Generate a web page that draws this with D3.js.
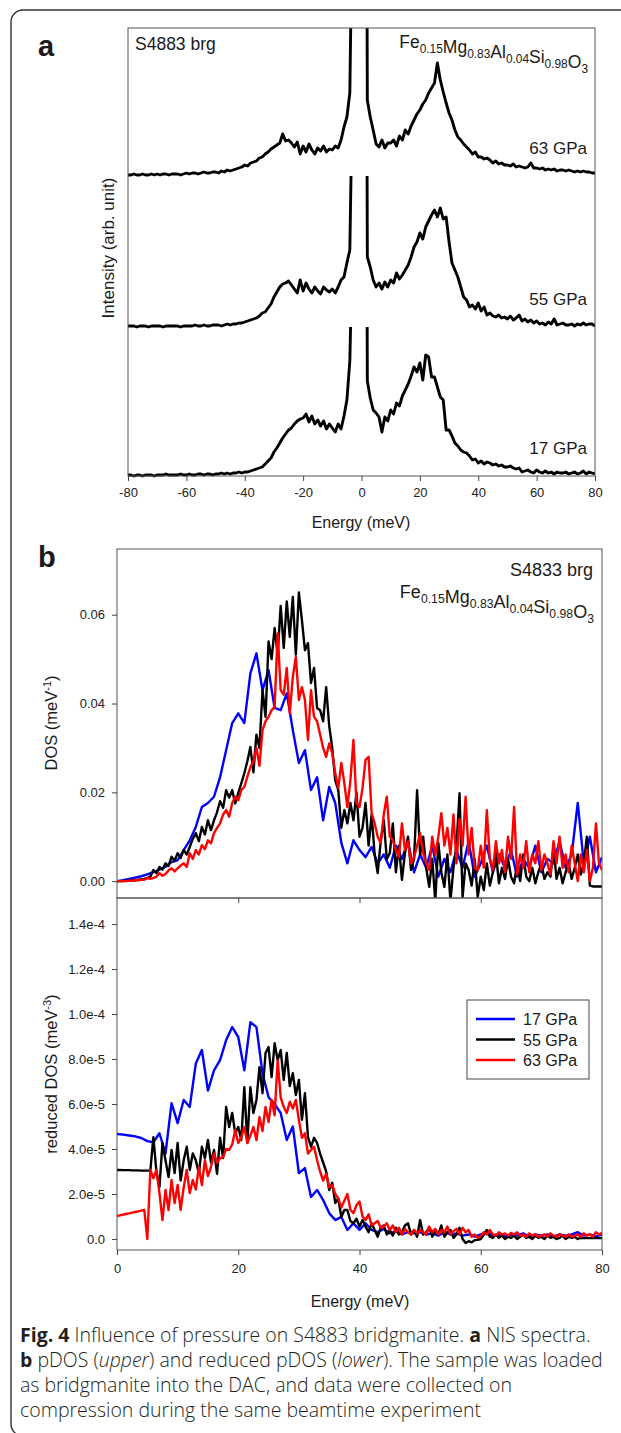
<!DOCTYPE html>
<html>
<head>
<meta charset="utf-8">
<script src="https://cdnjs.cloudflare.com/ajax/libs/d3/7.8.5/d3.min.js"></script>
<style>
  body { margin: 0; background: #fff; }
  svg text { font-family: "Liberation Sans", Arial, sans-serif; fill: #1a1a1a; }
  svg text.cap { font-family: "Open Sans", sans-serif; font-weight: 300; fill: #231f20; }
</style>
</head>
<body>
<div id="fig"></div>
<script>
// ---- data ----
// panel a: NIS spectra, energy -80..80 meV (1 meV step), intensity in arb. units
var nisEnergy = d3.range(-80, 81, 1);
var nis17 = [1,1,0,1,1,0,1,1,1,0, 1,1,1,2,1,1,1,1,2,1, 1,2,1,1,2,2,1,2,2,1, 2,2,3,2,3,2,3,3,4,3,
  4,4,5,6,7,8,9,12,15,18, 24,28,33,38,42,46,48,52,55,57, 58,62,54,60,52,56,50,55,47,52, 48,44,52,47,60,76,115,250,1000,1000,
  1000,1000,95,78,66,63,59,44,59,55, 66,62,73,70,80,86,92,100,109,104, 113,96,121,119,99,99,89,79,76,46, 46,40,33,30,26,24,23,20,16,17,
  13,15,12,14,13,11,12,10,11,9, 9,10,8,7,8,4,5,6,4,3, 6,4,3,5,3,4,2,4,3,3, 4,2,3,4,2,3,5,2,4,3, 2];
var nis55 = [1,1,1,0,1,1,1,0,1,1, 1,1,0,1,1,1,1,1,0,1, 1,1,1,2,1,1,2,1,1,2, 2,2,1,2,3,2,3,3,4,4,
  5,6,7,8,9,11,14,15,19,23, 30,35,40,43,44,46,42,38,34,47, 36,44,38,34,40,36,33,40,37,35, 38,34,40,47,50,64,77,260,1000,1000,
  1000,1000,70,60,47,40,44,38,45,40, 47,44,54,48,52,57,62,70,80,85, 94,88,100,106,112,117,110,119,108,110, 85,64,57,50,40,30,27,20,22,18,
  24,16,20,12,14,11,10,12,9,10, 8,11,7,9,12,6,8,5,7,4, 6,3,4,2,5,3,8,2,3,4, 2,2,3,1,3,2,4,2,3,3, 1];
var nis63 = [1,1,2,1,1,2,1,1,2,1, 2,1,2,2,1,2,2,2,1,2, 3,2,3,3,2,3,4,3,3,4, 4,3,5,4,6,5,6,7,8,9,
  11,10,13,14,15,18,19,22,24,27, 29,31,33,42,35,36,33,29,34,22, 30,24,32,26,22,28,25,30,24,27, 26,30,28,36,49,59,83,300,1000,1000,
  1000,1000,76,59,46,32,29,36,28,33, 33,36,30,40,36,46,42,50,56,62, 66,72,76,83,88,93,113,96,84,73, 63,56,46,39,36,32,29,26,22,24,
  19,19,17,18,16,13,15,12,13,11, 11,10,12,9,10,9,8,9,13,8, 8,7,8,6,7,6,7,5,6,6, 5,6,5,4,5,4,5,4,4,3, 3];
var nisLabels = ["17 GPa", "55 GPa", "63 GPa"];

// panel b: pDOS (in 1e-3 meV^-1) and reduced pDOS (in 1e-6 meV^-3)
var energyFine = d3.range(0, 80.25, 0.5);   // 55 and 63 GPa
var energyCoarse = d3.range(0, 80.5, 1);    // 17 GPa
var dos17 = [0,0.2,0.5,0.8,1.1,1.5,2.0,2.6,3.2,4.3, 4.7,7.0,9.2,12.2,16.7,17.6,19.0,23.4,29.5,35.6,
  37.8,35.6,46.8,51.3,43.0,47.5,39.0,38.5,42.3,34.0, 26.6,29.5,20.5,23.4,13.7,21.2,17.6,8.6,4.0,9.2,
  7.0,5.4,7.7,4.0,6.0,3.0,8.0,5.0,9.0,2.0, 6.0,3.0,8.0,1.0,5.0,2.0,7.0,3.0,9.0,1.0,
  4.0,8.0,2.0,6.0,3.0,7.0,1.0,5.0,3.0,8.0, 2.0,5.0,4.0,9.0,3.0,6.0,17.6,4.0,10.0,2.0, 5.4];
var dos55 = [0,0,0,0.1,0.1,0.2,0.2,0.3,0.4,0.5, 0.7,1.0,2.5,1.8,3.2,2.6,4.0,3.4,5.5,4.6,
  6.3,5.2,7.0,6.0,7.7,9.5,10.8,9.0,12.2,10.5, 13.7,11.5,13.7,15.5,18.0,16.5,20.5,18.8,20.5,17.5,
  19.8,22.0,24.3,27.0,30.2,24.5,33.0,30.0,43.0,37.0, 54.0,50.0,57.0,51.0,62.0,52.5,63.0,55.0,64.0,51.0,
  65.0,58.8,52.0,53.6,44.6,48.0,39.0,38.5,36.0,43.7, 35.0,30.0,22.7,20.5,12.0,16.0,13.0,17.6,13.7,20.0,
  10.0,12.0,17.6,8.0,15.0,6.0,1.8,9.0,13.7,5.0, 6.3,13.0,2.0,8.0,0.3,6.3,10.0,2.5,5.0,20.5,
  6.0,10.0,3.0,-1.3,5.0,-4.5,8.6,2.0,-1.3,6.0, -4.5,3.0,8.0,19.8,-3.6,4.0,2.5,-1.0,5.0,-3.6,
  1.0,-2.0,4.0,-1.0,2.0,6.3,-0.5,3.0,0.5,5.0, 1.0,-0.5,4.0,0.0,6.0,1.0,0.0,3.0,-0.5,2.0,
  4.0,0.5,2.0,1.0,7.7,0.5,3.0,-0.5,2.0,4.0, 0.5,3.0,6.0,1.5,4.0,10.0,-1.0,-1.2,-1.2,-1.2, -1.2];
var dos63 = [0,0,0,0,0.1,0.1,0.2,0.2,0.3,0.3, 0.7,0.5,0.7,1.0,1.8,1.2,1.6,2.4,2.9,2.2,
  2.9,3.5,4.0,3.2,6.3,5.0,7.0,6.0,8.1,7.2, 9.2,8.5,10.8,12.0,13.0,15.0,16.0,14.5,17.6,19.0,
  18.2,20.5,21.2,23.5,25.7,27.0,30.0,26.0,34.0,36.0, 37.0,38.5,39.2,55.8,43.0,42.0,48.0,37.8,46.0,50.5,
  40.8,43.7,40.8,31.8,43.0,37.0,36.0,33.0,30.0,28.0, 31.0,28.8,24.3,21.0,26.6,22.0,16.7,22.7,31.8,17.6,
  16.7,21.0,27.3,28.0,15.3,13.0,10.0,8.6,15.0,19.0, 10.0,9.2,7.0,5.4,13.0,7.0,9.0,4.0,5.4,8.0,
  10.8,6.3,4.0,2.5,10.0,6.0,10.0,15.3,8.0,12.0, 6.0,15.0,4.0,14.0,8.0,19.0,6.0,12.0,3.0,2.5,
  8.0,3.0,16.0,5.0,2.5,9.0,4.0,7.0,2.0,10.0, 5.0,16.7,1.5,6.0,3.0,9.0,2.0,6.0,4.0,9.0,
  2.5,6.0,4.0,1.5,9.0,4.0,10.0,3.0,6.0,2.0, 8.0,4.0,0.0,6.0,2.0,7.0,0.0,3.0,13.0,4.0, 2.5];
var rdos17 = [46.7,46.4,46.0,45.6,44.9,43.5,43.0,47.0,38.0,60.4, 51.5,61.8,58.7,78.0,84.0,66.0,75.0,79.5,88.4,94.2,
  89.8,75.0,96.4,94.2,73.7,63.0,60.0,56.0,44.0,50.0, 29.3,31.5,18.7,21.8,17.3,11.5,8.4,9.8,4.0,7.0,
  4.0,7.0,4.0,3.0,4.5,2.5,3.5,2.0,3.0,2.5, 3.0,2.0,2.5,1.5,3.0,2.0,2.5,1.5,2.0,1.0,
  2.0,3.0,1.5,2.0,1.0,2.0,1.5,2.5,1.0,2.0, 1.5,2.0,1.0,2.0,1.5,2.0,3.0,1.5,2.0,1.0, 2.0];
var rdos55 = [30.7,30.7,30.6,30.6,30.6,30.5,30.5,30.5,30.4,30.4, 30.4,30.4,45.3,30.0,23.0,42.7,35.0,27.5,39.6,29.3,
  42.7,26.0,35.0,41.0,30.7,38.0,35.0,29.0,41.0,36.0, 44.0,34.0,39.6,29.0,45.0,36.0,58.7,49.8,56.0,47.0,
  49.8,44.0,67.5,42.7,67.5,56.0,61.8,76.4,64.8,82.7, 85.3,72.0,87.0,79.5,84.0,70.7,82.7,68.0,73.7,64.0,
  70.7,53.0,64.8,45.3,41.0,45.0,42.7,38.0,34.0,30.0, 21.8,25.0,16.0,18.0,9.8,12.9,12.9,8.0,7.0,9.0,
  5.5,8.4,5.5,3.0,7.0,4.0,1.0,5.0,6.0,2.0, 4.0,1.5,5.0,2.0,3.0,6.0,7.0,2.0,4.0,1.0,
  8.4,2.0,3.0,5.0,1.0,4.0,2.0,6.0,1.0,3.0, 4.0,0.5,2.0,5.0,0.0,-1.8,-1.0,-1.5,-0.5,-0.4,
  0.0,2.0,4.0,1.0,0.5,2.0,0.5,1.5,0.0,1.0, 0.5,1.5,0.0,1.0,2.0,0.5,1.0,0.0,1.5,0.5,
  1.0,0.0,1.5,0.5,1.0,0.0,0.5,1.5,0.0,1.0, 0.5,1.0,0.0,0.5,0.4,0.4,0.4,0.4,0.4,0.4, 0.4];
var rdos63 = [10.2,10.5,10.8,11.1,11.4,11.7,12.0,12.3,12.6,12.9, 0.0,30.7,27.0,30.7,20.4,8.4,21.8,12.9,26.2,16.0,
  24.0,12.9,23.0,30.7,20.4,26.2,22.0,32.0,24.0,35.0, 28.0,32.0,38.0,33.8,36.0,36.4,40.0,39.6,42.0,48.4,
  42.7,45.3,49.8,42.7,46.0,49.8,44.0,54.2,48.0,58.7, 52.0,61.8,55.0,79.5,63.0,58.7,56.0,61.0,58.0,61.8,
  53.0,45.0,47.0,38.0,39.6,41.0,35.0,30.0,26.0,29.0, 23.0,24.0,20.0,18.0,14.0,17.0,20.0,13.0,11.5,15.0,
  16.7,10.0,8.4,11.0,6.0,7.0,8.0,5.0,5.5,7.0, 4.0,6.0,3.0,5.0,2.0,4.5,3.0,2.0,4.0,2.5,
  4.0,3.0,2.0,5.5,3.0,4.5,2.0,4.0,3.0,5.5, 2.0,3.5,4.5,2.0,5.0,3.0,4.0,1.0,2.0,0.4,
  1.5,3.0,2.0,4.0,2.0,1.5,3.0,2.0,2.5,1.5, 2.7,2.0,3.0,1.5,2.0,1.0,2.5,1.5,2.0,1.0,
  1.5,2.0,1.0,2.5,1.5,1.0,2.0,1.5,1.0,2.0, 1.0,1.5,2.0,1.0,2.5,1.5,2.0,1.0,3.0,2.0, 2.7];
var pressures = ["17 GPa", "55 GPa", "63 GPa"];
var pressureColors = ["#0000ff", "#000000", "#ff0000"];

var ticksA = [-80, -60, -40, -20, 0, 20, 40, 60, 80];
var ticksB = [0, 20, 40, 60, 80];
var ticksDos = [0, 20, 40, 60];
var ticksRdos = [0, 20, 40, 60, 80, 100, 120, 140];
var formula = [["Fe", "0.15"], ["Mg", "0.83"], ["Al", "0.04"], ["Si", "0.98"], ["O", "3"]];

// ---- drawing ----
var svg = d3.select("#fig").append("svg")
    .attr("width", 621)
    .attr("height", 1433);

svg.append("rect")
    .attr("x", 11).attr("y", 10)
    .attr("width", 660).attr("height", 1426)
    .attr("rx", 12)
    .style("fill", "none").style("stroke", "#333").style("stroke-width", 1.4);

function styleAxis(g, size) {
    g.select(".domain").remove();
    g.selectAll(".tick line").style("stroke", "#444");
    g.selectAll(".tick text").style("font-size", size + "px").style("fill", "#222")
        .style("font-family", "'Liberation Sans', Arial, sans-serif");
}

function addFormula(x, y, size) {
    var t = svg.append("text").attr("x", x).attr("y", y)
        .attr("text-anchor", "end").style("font-size", size + "px");
    formula.forEach(function(p) {
        t.append("tspan").text(p[0]);
        t.append("tspan").attr("dy", size * 0.28).style("font-size", (size * 0.68) + "px").text(p[1]);
        t.append("tspan").attr("dy", -size * 0.28).text("");
    });
}

// panel a
var xa = d3.scaleLinear().domain([-80, 80]).range([128, 595]);
var ya = d3.scaleLinear().domain([0, 448]).range([476, 28]);
var nisSets = [nis17, nis55, nis63];
var stackBase = [0, 149, 300, 448];

svg.append("text").attr("x", 38).attr("y", 56)
    .style("font-size", "29px").style("font-weight", "bold").text("a");

nisSets.forEach(function(vals, k) {
    var id = "clipA" + k;
    svg.append("clipPath").attr("id", id).append("rect")
        .attr("x", xa(-80)).attr("y", ya(stackBase[k + 1]))
        .attr("width", xa(80) - xa(-80)).attr("height", ya(0) - ya(stackBase[k + 1]) + 3);
    var line = d3.line()
        .x(function(d, i) { return xa(nisEnergy[i]); })
        .y(function(d) { return ya(stackBase[k] + d); });
    svg.append("path").datum(vals)
        .attr("clip-path", "url(#" + id + ")")
        .attr("d", line)
        .style("fill", "none").style("stroke", "#000")
        .style("stroke-width", 2.9).style("stroke-linejoin", "round");
    svg.append("text")
        .attr("x", 587).attr("y", ya(stackBase[k]) - 22)
        .attr("text-anchor", "end").style("font-size", "17px")
        .text(nisLabels[k]);
});

svg.append("rect")
    .attr("x", xa(-80)).attr("y", ya(448))
    .attr("width", xa(80) - xa(-80)).attr("height", ya(0) - ya(448))
    .style("fill", "none").style("stroke", "#555").style("stroke-width", 1);

svg.append("g").attr("transform", "translate(0," + ya(0) + ")")
    .call(d3.axisBottom(xa).tickValues(ticksA).tickSize(5).tickPadding(7)
        .tickFormat(function(d) { return String(d); }))
    .call(styleAxis, 13);

svg.append("text").attr("x", 135).attr("y", 50).style("font-size", "17.5px").text("S4883 brg");
addFormula(588, 48, 17.5);

svg.append("text").attr("x", 361).attr("y", 528)
    .attr("text-anchor", "middle").style("font-size", "16px").text("Energy (meV)");
svg.append("text").attr("transform", "translate(114,248) rotate(-90)")
    .attr("text-anchor", "middle").style("font-size", "17px").text("Intensity (arb. unit)");

// panel b
var xb = d3.scaleLinear().domain([0, 80]).range([117, 602]);
var yDos = d3.scaleLinear().domain([-3.8, 74.8]).range([898, 549]);
var yRd = d3.scaleLinear().domain([-4.9, 151.6]).range([1250, 898]);

svg.append("text").attr("x", 38).attr("y", 567)
    .style("font-size", "29px").style("font-weight", "bold").text("b");

svg.append("clipPath").attr("id", "clipDos").append("rect")
    .attr("x", 117).attr("y", 549).attr("width", 485).attr("height", 349);
svg.append("clipPath").attr("id", "clipRd").append("rect")
    .attr("x", 117).attr("y", 898).attr("width", 485).attr("height", 352);

var dosSets = [dos17, dos55, dos63];
var rdSets = [rdos17, rdos55, rdos63];
var grids = [energyCoarse, energyFine, energyFine];

dosSets.forEach(function(vals, k) {
    var line = d3.line()
        .x(function(d, i) { return xb(grids[k][i]); })
        .y(function(d) { return yDos(d); });
    svg.append("path").datum(vals)
        .attr("clip-path", "url(#clipDos)")
        .attr("d", line)
        .style("fill", "none").style("stroke", pressureColors[k])
        .style("stroke-width", 2.4).style("stroke-linejoin", "round");
});

rdSets.forEach(function(vals, k) {
    var line = d3.line()
        .x(function(d, i) { return xb(grids[k][i]); })
        .y(function(d) { return yRd(d); });
    svg.append("path").datum(vals)
        .attr("clip-path", "url(#clipRd)")
        .attr("d", line)
        .style("fill", "none").style("stroke", pressureColors[k])
        .style("stroke-width", 2.4).style("stroke-linejoin", "round");
});

svg.append("rect").attr("x", 117).attr("y", 549).attr("width", 485).attr("height", 349)
    .style("fill", "none").style("stroke", "#555").style("stroke-width", 1);
svg.append("rect").attr("x", 117).attr("y", 898).attr("width", 485).attr("height", 352)
    .style("fill", "none").style("stroke", "#555").style("stroke-width", 1);

svg.append("g").attr("transform", "translate(117,0)")
    .call(d3.axisLeft(yDos).tickValues(ticksDos).tickSize(5).tickPadding(7)
        .tickFormat(function(d) { return (d / 1000).toFixed(2); }))
    .call(styleAxis, 13);

svg.append("g").attr("transform", "translate(0,898)")
    .call(d3.axisBottom(xb).tickValues([20, 40, 60]).tickSize(5).tickFormat(""))
    .call(styleAxis, 13);

function fmtRd(d) {
    if (d === 0) return "0.0";
    var v = d * 1e-6;
    var e = Math.floor(Math.log10(v) + 1e-9);
    return (v / Math.pow(10, e)).toFixed(1) + "e" + e;
}
svg.append("g").attr("transform", "translate(117,0)")
    .call(d3.axisLeft(yRd).tickValues(ticksRdos).tickSize(5).tickPadding(7).tickFormat(fmtRd))
    .call(styleAxis, 13);

svg.append("g").attr("transform", "translate(0,1250)")
    .call(d3.axisBottom(xb).tickValues(ticksB).tickSize(5).tickPadding(9)
        .tickFormat(function(d) { return String(d); }))
    .call(styleAxis, 13);

svg.append("text").attr("x", 593).attr("y", 576)
    .attr("text-anchor", "end").style("font-size", "18px").text("S4833 brg");
addFormula(594, 598, 18);

svg.append("text").attr("x", 360).attr("y", 1307)
    .attr("text-anchor", "middle").style("font-size", "16px").text("Energy (meV)");

var t1 = svg.append("text").attr("transform", "translate(57,723) rotate(-90)")
    .attr("text-anchor", "middle").style("font-size", "16.5px");
t1.append("tspan").text("DOS (meV");
t1.append("tspan").attr("dy", -6).style("font-size", "11px").text("-1");
t1.append("tspan").attr("dy", 6).text(")");

var t2 = svg.append("text").attr("transform", "translate(57,1074) rotate(-90)")
    .attr("text-anchor", "middle").style("font-size", "16.5px");
t2.append("tspan").text("reduced DOS (meV");
t2.append("tspan").attr("dy", -6).style("font-size", "11px").text("-3");
t2.append("tspan").attr("dy", 6).text(")");

// legend
var leg = svg.append("g").attr("transform", "translate(467,1000)");
leg.append("rect").attr("width", 122).attr("height", 79)
    .style("fill", "#fff").style("stroke", "#444").style("stroke-width", 1);
pressures.forEach(function(p, k) {
    var yy = 19 + k * 20.5;
    leg.append("line").attr("x1", 9).attr("x2", 48).attr("y1", yy).attr("y2", yy)
        .style("stroke", pressureColors[k]).style("stroke-width", 2.5);
    leg.append("text").attr("x", 56).attr("y", yy + 6).style("font-size", "16px").text(p);
});

// caption
var capLines = [
    [["Fig. 4", "b"], [" Influence of pressure on S4883 bridgmanite. ", ""], ["a", "b"], [" NIS spectra.", ""]],
    [["b", "b"], [" pDOS (", ""], ["upper", "i"], [") and reduced pDOS (", ""], ["lower", "i"], ["). The sample was loaded", ""]],
    [["as bridgmanite into the DAC, and data were collected on", ""]],
    [["compression during the same beamtime experiment", ""]]
];
capLines.forEach(function(parts, k) {
    var t = svg.append("text").attr("class", "cap")
        .attr("x", 20).attr("y", 1342 + k * 25).style("font-size", "19.5px");
    parts.forEach(function(p) {
        var s = t.append("tspan").text(p[0]);
        if (p[1] === "b") s.style("font-weight", "bold");
        if (p[1] === "i") s.style("font-style", "italic");
    });
});
</script>
</body>
</html>
